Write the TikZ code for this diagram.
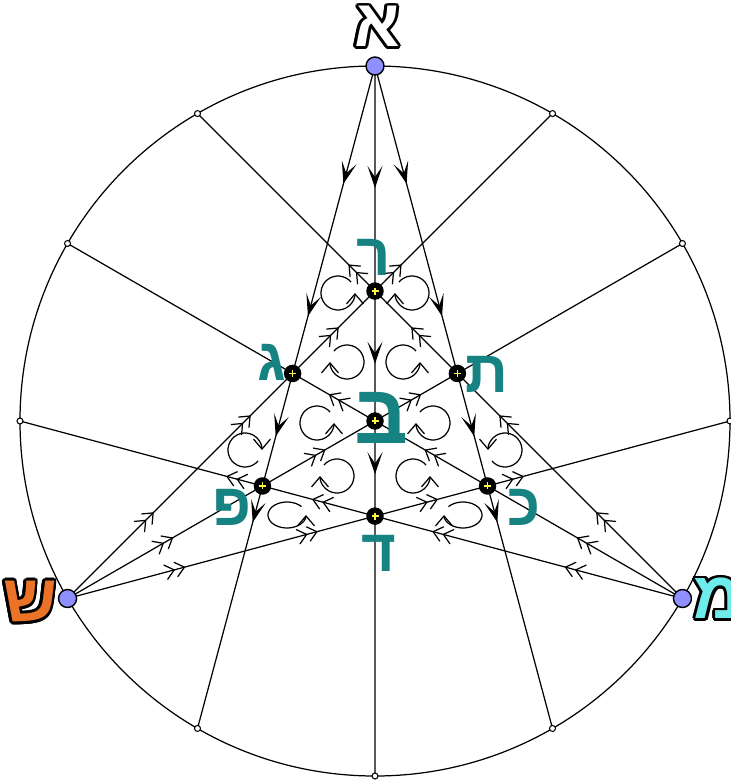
\documentclass[tikz,border=0pt]{standalone}
\usepackage{fontspec}
\usepackage{contour}
\usetikzlibrary{arrows.meta,decorations.markings}
\newfontfamily\hebfont[Script=Hebrew]{Liberation Sans}
\TeXXeTstate=1
\definecolor{lettal}{RGB}{22,130,130}
\definecolor{vblue}{RGB}{143,143,255}
\definecolor{shinor}{RGB}{235,115,40}
\definecolor{memcy}{RGB}{110,235,235}
\contourlength{0.8pt}

\begin{document}
\begin{tikzpicture}[
    line width=0.35pt,
    vdot/.style={circle, fill=black, inner sep=0pt, minimum size=1.75mm,
                 path picture={\draw[yellow!70, line width=0.45pt]
                   (path picture bounding box.center) +(-0.35mm,0) -- +(0.35mm,0)
                   (path picture bounding box.center) +(0,-0.35mm) -- +(0,0.35mm);}},
    bdot/.style={circle, draw=black, fill=vblue, inner sep=0pt,
                 minimum size=1.8mm, line width=0.4pt},
    odot/.style={circle, draw=black, fill=white, inner sep=0pt,
                 minimum size=0.6mm, line width=0.3pt},
    hlet/.style={font=\hebfont\bfseries\fontsize{17}{17}\selectfont,
                 text=lettal, inner sep=0pt},
    olet/.style={font=\hebfont\bfseries\fontsize{19}{19}\selectfont, inner sep=0pt},
    atip/.tip={Stealth[length=2.2mm,width=1.5mm,inset=1.1mm]},
    stip/.tip={Straight Barb[length=0.9mm,width=1.5mm]Straight Barb[length=0.9mm,width=1.5mm]},
    amark/.style={decoration={markings, mark=at position #1 with {\arrow{atip}}},
                  postaction={decorate}},
    amark/.default=0.56,
    smark/.style={decoration={markings, mark=at position #1 with {\arrow{stip}}},
                  postaction={decorate}},
    smark/.default=0.56,
    swirl/.style={-{Straight Barb[length=1mm,width=1.7mm]}}
  ]
  \useasboundingbox (-3.75,-3.59) rectangle (3.55,4.21);
  % points on the circle
  \coordinate (vA) at (90:3.55);
  \coordinate (vS) at (210:3.55);
  \coordinate (vM) at (330:3.55);
  \coordinate (p0) at (0:3.55);     \coordinate (p30) at (30:3.55);
  \coordinate (p60) at (60:3.55);   \coordinate (p120) at (120:3.55);
  \coordinate (p150) at (150:3.55); \coordinate (p180) at (180:3.55);
  \coordinate (p240) at (240:3.55); \coordinate (p270) at (270:3.55);
  \coordinate (p300) at (300:3.55);
  % crossings of the chords
  \coordinate (bet) at (0,0);
  \coordinate (resh) at (intersection of vA--p270 and vS--p60);
  \coordinate (gimel) at (intersection of vA--p240 and vS--p60);
  \coordinate (tav) at (intersection of vA--p300 and vM--p120);
  \coordinate (pe) at (intersection of vA--p240 and vS--p30);
  \coordinate (kaf) at (intersection of vA--p300 and vM--p150);
  \coordinate (dalet) at (intersection of vA--p270 and vS--p0);
  \coordinate (x1) at (intersection of vA--p240 and vM--p120);
  \coordinate (x1b) at (intersection of vA--p300 and vS--p60);
  \coordinate (x2) at (intersection of vA--p240 and vS--p0);
  \coordinate (x2b) at (intersection of vA--p300 and vM--p180);
  \coordinate (x3) at (intersection of vS--p60 and vM--p180);
  \coordinate (x3b) at (intersection of vM--p120 and vS--p0);

  \draw (0,0) circle[radius=3.55];
  \draw (vA) -- (p240) (vA) -- (p270) (vA) -- (p300);
  \draw (vS) -- (p0) (vS) -- (p30) (vS) -- (p60);
  \draw (vM) -- (p120) (vM) -- (p150) (vM) -- (p180);

  % flow out of aleph
  \path[amark=1.22cm] (vA) -- (resh); \path[amark] (resh) -- (bet); \path[amark] (bet) -- (dalet);
  \path[amark=1.22cm] (vA) -- (x1); \path[amark] (x1) -- (gimel);
  \path[amark] (gimel) -- (pe); \path[amark] (pe) -- (x2);
  \path[amark=1.22cm] (vA) -- (x1b); \path[amark] (x1b) -- (tav);
  \path[amark] (tav) -- (kaf); \path[amark] (kaf) -- (x2b);
  % flow out of shin
  \path[smark=1.22cm] (vS) -- (pe); \path[smark] (pe) -- (bet); \path[smark] (bet) -- (tav);
  \path[smark=1.22cm] (vS) -- (x3); \path[smark] (x3) -- (gimel);
  \path[smark] (gimel) -- (resh); \path[smark] (resh) -- (x1b);
  \path[smark=1.22cm] (vS) -- (x2); \path[smark] (x2) -- (dalet);
  \path[smark] (dalet) -- (kaf); \path[smark] (kaf) -- (x3b);
  % flow out of mem
  \path[smark=1.22cm] (vM) -- (kaf); \path[smark] (kaf) -- (bet); \path[smark] (bet) -- (gimel);
  \path[smark=1.22cm] (vM) -- (x3b); \path[smark] (x3b) -- (tav);
  \path[smark] (tav) -- (resh); \path[smark] (resh) -- (x1);
  \path[smark=1.22cm] (vM) -- (x2b); \path[smark] (x2b) -- (dalet);
  \path[smark] (dalet) -- (pe); \path[smark] (pe) -- (x3);

  % whirls in the cells
  \draw[swirl] (-0.37,1.28) ++(40:0.17) arc[start angle=40, end angle=360, radius=0.17];
  \draw[swirl] (0.37,1.28) ++(140:0.17) arc[start angle=140, end angle=-180, radius=0.17];
  \draw[swirl] (-0.28,0.59) ++(140:0.17) arc[start angle=140, end angle=-180, radius=0.17];
  \draw[swirl] (0.28,0.59) ++(40:0.17) arc[start angle=40, end angle=360, radius=0.17];
  \draw[swirl] (-0.58,-0.02) ++(40:0.17) arc[start angle=40, end angle=360, radius=0.17];
  \draw[swirl] (0.58,-0.02) ++(140:0.17) arc[start angle=140, end angle=-180, radius=0.17];
  \draw[swirl] (-1.30,-0.29) ++(-40:0.17) arc[start angle=-40, end angle=-360, radius=0.17];
  \draw[swirl] (1.30,-0.29) ++(-140:0.17) arc[start angle=-140, end angle=180, radius=0.17];
  \draw[swirl] (-0.38,-0.55) ++(140:0.17) arc[start angle=140, end angle=-180, radius=0.17];
  \draw[swirl] (0.38,-0.55) ++(40:0.17) arc[start angle=40, end angle=360, radius=0.17];
  \draw[swirl] (-0.88,-0.94) ++(40:0.19 and 0.13)
    arc[start angle=40, end angle=360, x radius=0.19, y radius=0.13];
  \draw[swirl] (0.88,-0.94) ++(140:0.19 and 0.13)
    arc[start angle=140, end angle=-180, x radius=0.19, y radius=0.13];

  % letters
  \node[hlet] (tresh) at (-0.01,1.64) {\beginR ר\endR};
  \node[hlet] (tgimel) at (-1.03,0.59) {\beginR ג\endR};
  \node[hlet] (ttav) at (1.12,0.47) {\beginR ת\endR};
  \node[hlet, font=\hebfont\bfseries\fontsize{24}{24}\selectfont] (tbet) at (0.06,0.03) {\beginR ב\endR};
  \node[hlet] (tpe) at (-1.43,-0.86) {\beginR פ\endR};
  \node[hlet] (tkaf) at (1.49,-0.86) {\beginR כ\endR};
  \node[hlet] (tdalet) at (0.04,-1.32) {\beginR ד\endR};
  \node[olet] (taleph) at (0.02,3.93) {\contour{black}{\textcolor{white}{\beginR א\endR}}};
  \node[olet] (tshin) at (-3.45,-1.82) {\contour{black}{\textcolor{shinor}{\beginR ש\endR}}};
  \node[olet] (tmem) at (3.43,-1.79) {\contour{black}{\textcolor{memcy}{\beginR מ\endR}}};

  % dots
  \node[bdot] (dA) at (vA) {};
  \node[bdot] (dS) at (vS) {};
  \node[bdot] (dM) at (vM) {};
  \node[odot] (o0) at (p0) {};     \node[odot] (o30) at (p30) {};
  \node[odot] (o60) at (p60) {};   \node[odot] (o120) at (p120) {};
  \node[odot] (o150) at (p150) {}; \node[odot] (o180) at (p180) {};
  \node[odot] (o240) at (p240) {}; \node[odot] (o270) at (p270) {};
  \node[odot] (o300) at (p300) {};
  \node[vdot] (nresh) at (resh) {};
  \node[vdot] (ngimel) at (gimel) {};
  \node[vdot] (ntav) at (tav) {};
  \node[vdot] (nbet) at (bet) {};
  \node[vdot] (npe) at (pe) {};
  \node[vdot] (nkaf) at (kaf) {};
  \node[vdot] (ndalet) at (dalet) {};
\end{tikzpicture}
\end{document}
